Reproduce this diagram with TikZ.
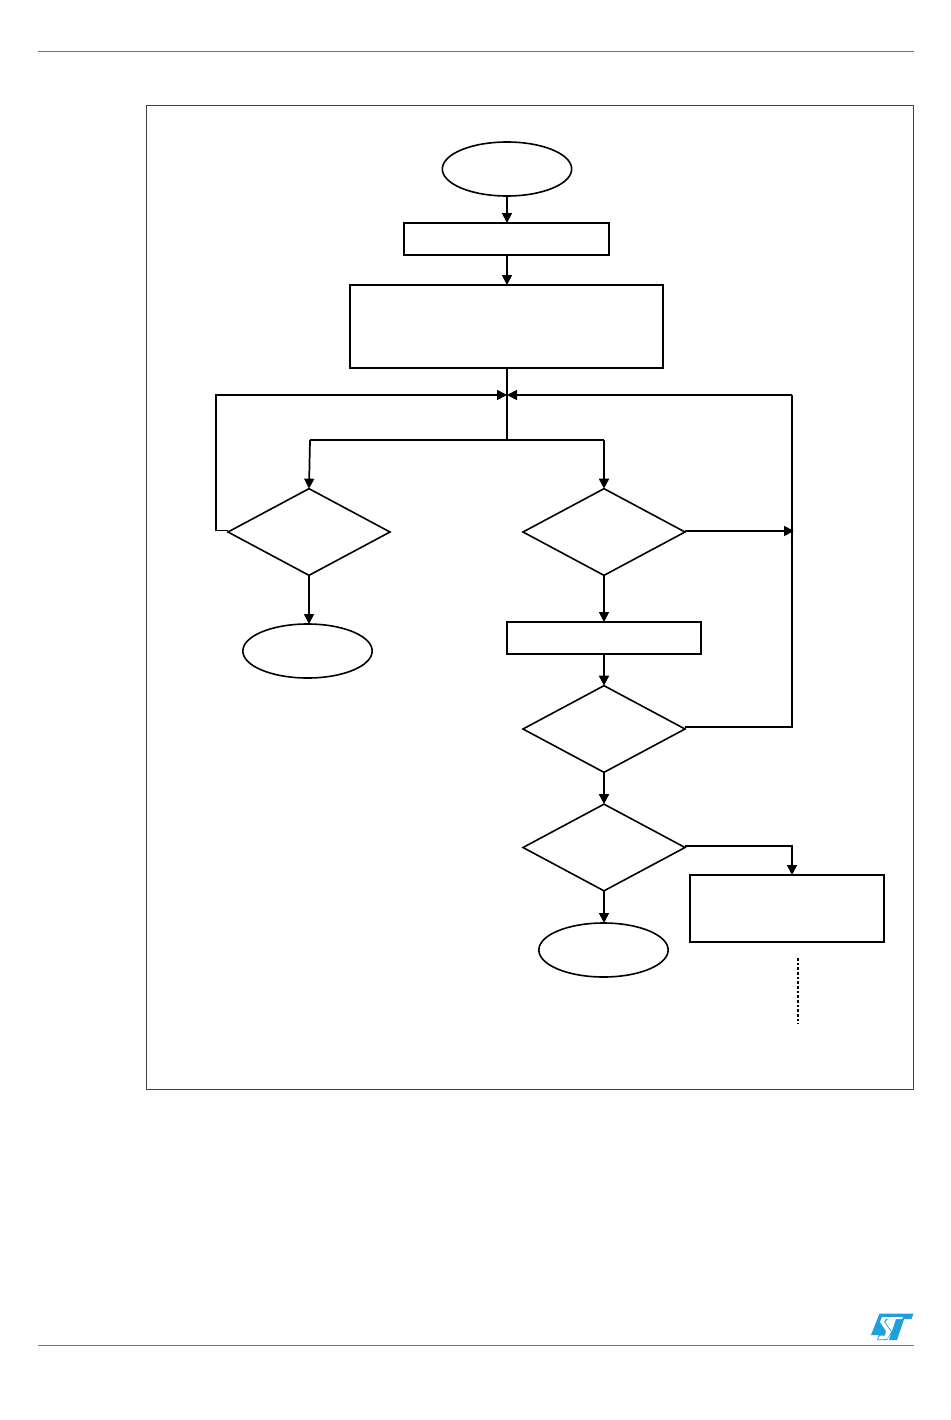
\documentclass[tikz,border=0pt]{standalone}
\usetikzlibrary{shapes.geometric,arrows.meta}
\definecolor{stblue}{RGB}{30,160,220}
\tikzset{
  every picture/.style={x=0.75pt,y=-0.75pt},
  blk/.style={draw=black,line width=1.2pt,line join=miter},
  boxn/.style={blk,rectangle,inner sep=0pt,outer sep=0pt},
  oval/.style={blk,ellipse,inner sep=0pt,outer sep=0pt,minimum width=97pt,minimum height=40.5pt},
  dia/.style={blk,diamond,inner sep=0pt,outer sep=0pt,minimum width=121.5pt,minimum height=65pt},
  conn/.style={draw=black,line width=1.3pt},
  arr/.style={conn,-{Triangle[length=7.5pt,width=7.5pt]}},
  rule/.style={draw=black!55,line width=0.75pt}
}
\begin{document}
\begin{tikzpicture}
\useasboundingbox (0,0) rectangle (950,1420);
\fill[white] (0,0) rectangle (950,1420);
\coordinate (ruleTL) at (38,51.5); \coordinate (ruleTR) at (914,51.5);
\coordinate (ruleBL) at (38,1345); \coordinate (ruleBR) at (914,1345);
\draw[rule] (ruleTL) -- (ruleTR);
\draw[rule] (ruleBL) -- (ruleBR);
\draw[draw=black!75,line width=0.6pt] (146,105) rectangle (913,1089);
\node[oval] (start) at (507,169) {};
\node[boxn,minimum width=153.75pt,minimum height=24pt] (init) at (506.5,239) {};
\node[boxn,minimum width=234.75pt,minimum height=62.25pt] (setup) at (506.5,326.5) {};
\coordinate (join) at (507,395);
\coordinate (split) at (507,440);
\coordinate (splitL) at (310,440);
\coordinate (splitR) at (604,440);
\node[dia] (dl) at (309,532) {};
\node[dia] (d1) at (604,532) {};
\node[oval] (endl) at (307.5,651) {};
\node[boxn,minimum width=145.5pt,minimum height=24pt] (mid) at (604,638) {};
\node[dia] (d2) at (604,729) {};
\node[dia] (d3) at (604,847.5) {};
\node[oval] (endr) at (603.5,950) {};
\node[boxn,minimum width=145.5pt,minimum height=50.25pt] (next) at (787,908.5) {};
\coordinate (lft) at (216,530.5);
\coordinate (lftT) at (216,395);
\coordinate (rgtT) at (792,395);
\coordinate (rgtM) at (794,531);
\coordinate (rgtB) at (792,727);
\coordinate (d3c) at (792,846);
\coordinate (dotT) at (798,958);
\coordinate (dotB) at (798,1024);
\draw[arr] (start.south -| join) -- (init.north -| join);
\draw[arr] (init.south -| join) -- (setup.north -| join);
\draw[conn] (setup.south -| join) -- (split);
\draw[conn] (splitL) -- (splitR);
\draw[arr] (splitL) -- (dl.north);
\draw[arr] (splitR) -- (d1.north);
\draw[arr] (dl.south) -- (endl.north -| dl.south);
\draw[arr] (d1.south) -- (mid.north);
\draw[arr] (mid.south) -- (d2.north);
\draw[arr] (d2.south) -- (d3.north);
\draw[arr] (d3.south) -- (endr.north -| d3.south);
\draw[arr] (dl.west |- lft) -- (lft) -- (lftT) -- (join);
\draw[arr] (rgtT) -- (join);
\draw[conn,line join=miter] (d2.east |- rgtB) -- (rgtB) -- (rgtT);
\draw[arr] (d1.east |- rgtM) -- (rgtM);
\draw[arr] (d3.east |- d3c) -- (d3c) -- (d3c |- next.north);
\draw[line width=1.1pt,dash pattern=on 2pt off 1.5pt] (dotT) -- (dotB);
\fill[stblue] (871,1335) -- (879.5,1313.5) -- (913.5,1313.5) -- (911.5,1319) -- (904,1319) -- (897,1340) -- (889,1340) -- (896,1319) -- (888,1319) -- (885,1322) -- (892,1332) -- (887,1340) -- (877,1340) -- (879,1335) -- cycle;
\fill[white] (882,1317) -- (903,1317) -- (902,1319) -- (885.5,1319) -- (884,1322) -- (891,1332) -- (887,1339) -- (878,1339.5) -- (880,1335.5) -- (885,1335.5) -- (886,1331) -- (880,1322) -- cycle;
\end{tikzpicture}
\end{document}
